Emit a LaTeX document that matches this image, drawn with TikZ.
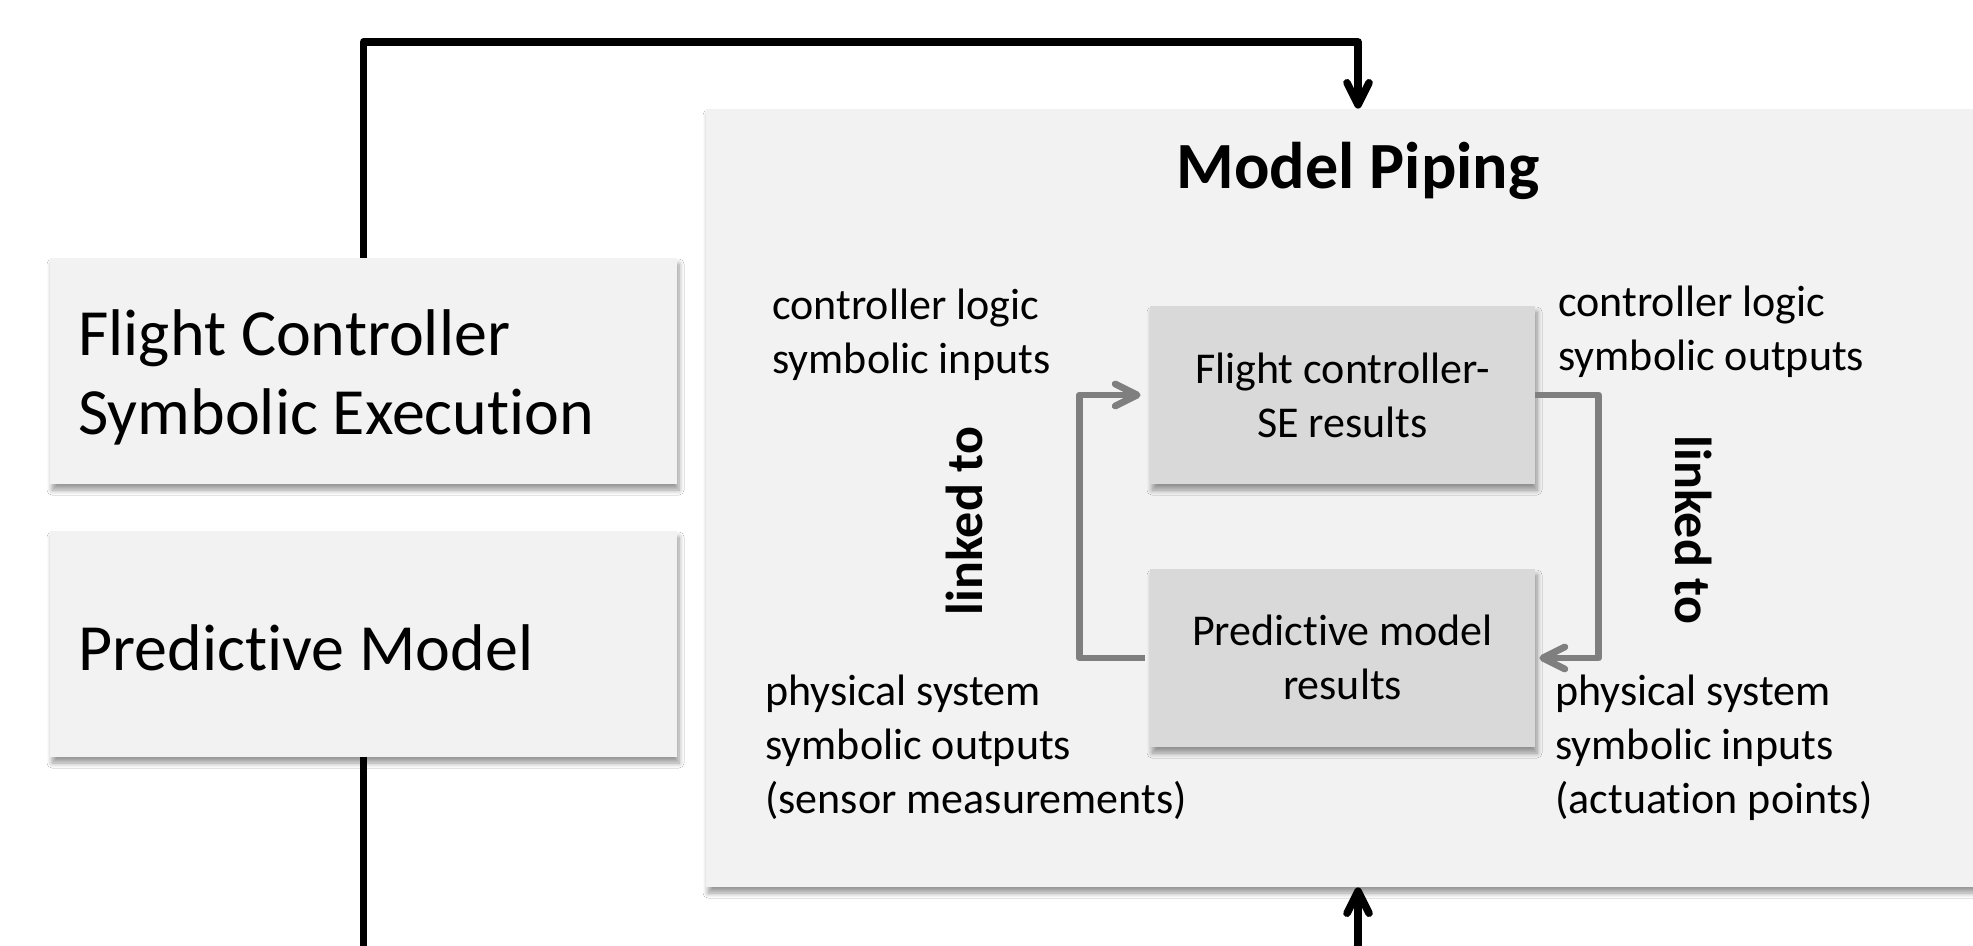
\documentclass[tikz,border=0pt]{standalone}
\usepackage{fontspec}
\setmainfont{Carlito}[Ligatures={NoCommon}]
\usetikzlibrary{arrows.meta,shadows.blur}
\definecolor{boxfill}{HTML}{F2F2F2}
\definecolor{innerfill}{HTML}{D9D9D9}
\definecolor{linkgray}{HTML}{7F7F7F}
\tikzset{
  softshadow/.style={blur shadow={shadow xshift=1pt, shadow yshift=-3pt, shadow blur radius=2.5pt, shadow blur steps=8, shadow opacity=40}},
  outerbox/.style={fill=boxfill, draw=none, inner sep=0pt, softshadow},
  innerbox/.style={fill=innerfill, draw=none, inner sep=0pt, minimum width=192.5pt, minimum height=89pt, softshadow},
  bigtext/.style={font=\fontsize{33}{39.5}\selectfont, inner sep=0pt, anchor=base west},
  smalltext/.style={font=\fontsize{22}{27}\selectfont, inner sep=0pt, anchor=base west},
  centertext/.style={font=\fontsize{22}{27}\selectfont, inner sep=0pt, anchor=base},
  linklabel/.style={font=\fontsize{26}{30}\selectfont\bfseries, inner sep=0pt, anchor=center},
  blkconn/.style={line width=3.8pt, line join=round, -{Straight Barb[length=11pt,width=11pt,round]}},
  grayconn/.style={draw=linkgray, line width=3.4pt, line join=round, -{Straight Barb[length=11pt,width=11pt,round]}},
}
\begin{document}
\begin{tikzpicture}[x=0.5pt,y=-0.5pt]
\useasboundingbox (0,0) rectangle (1973,946);
\clip (0,0) rectangle (1973,946);
\fill[white] (0,0) rectangle (1973,946);

% Model Piping container
\node[outerbox, minimum width=652pt, minimum height=389pt] (mp) at (1358,498) {};
\node[font=\fontsize{33}{39.5}\selectfont\bfseries, inner sep=0pt, anchor=base] (mptitle) at (1358,189) {Model Piping};

% inner boxes
\node[innerbox] (fcse) at (1342.5,395) {};
\node[centertext] (fcsetext) at (1342.5,383) {\begin{tabular}[t]{@{}c@{}}Flight controller-\\SE results\end{tabular}};
\node[innerbox] (pmr) at (1342.5,658) {};
\node[centertext] (pmrtext) at (1342.5,645) {\begin{tabular}[t]{@{}c@{}}Predictive model\\results\end{tabular}};

% left boxes
\node[outerbox, minimum width=313.5pt, minimum height=113pt] (fc) at (363.5,371) {};
\node[bigtext] (fctext) at (78,356) {\begin{tabular}[t]{@{}l@{}}Flight Controller\\Symbolic Execution\end{tabular}};
\node[outerbox, minimum width=313.5pt, minimum height=113pt] (pm) at (363.5,644) {};
\node[bigtext] (pmtext) at (78,670) {Predictive Model};

% labels
\node[smalltext] (cli) at (772,320) {\begin{tabular}[t]{@{}l@{}}controller logic\\symbolic inputs\end{tabular}};
\node[smalltext] (clo) at (1558,317) {\begin{tabular}[t]{@{}l@{}}controller logic\\symbolic outputs\end{tabular}};
\node[smalltext] (pso) at (765,705) {\begin{tabular}[t]{@{}l@{}}physical system\\symbolic outputs\\(sensor measurements)\end{tabular}};
\node[smalltext] (psi) at (1555,705) {\begin{tabular}[t]{@{}l@{}}physical system\\symbolic inputs\\(actuation points)\end{tabular}};
\node[linklabel, rotate=90] (linkL) at (964,521) {linked to};
\node[linklabel, rotate=-90] (linkR) at (1694,530) {linked to};

% black connectors
\coordinate (topy) at (0,42);
\coordinate (boty) at (0,1010);
\draw[blkconn] (fc.north) -- (fc.north |- topy) -| (mp.north);
\draw[blkconn] (pm.south) -- (pm.south |- boty) -| (mp.south);

% gray connectors
\draw[grayconn] ([xshift=-2.5pt]pmr.west) -- ++(-65,0) |- ([xshift=-4.5pt]fcse.west);
\draw[grayconn] (fcse.east) -- ++(63,0) |- ([xshift=2pt]pmr.east);
\end{tikzpicture}
\end{document}
